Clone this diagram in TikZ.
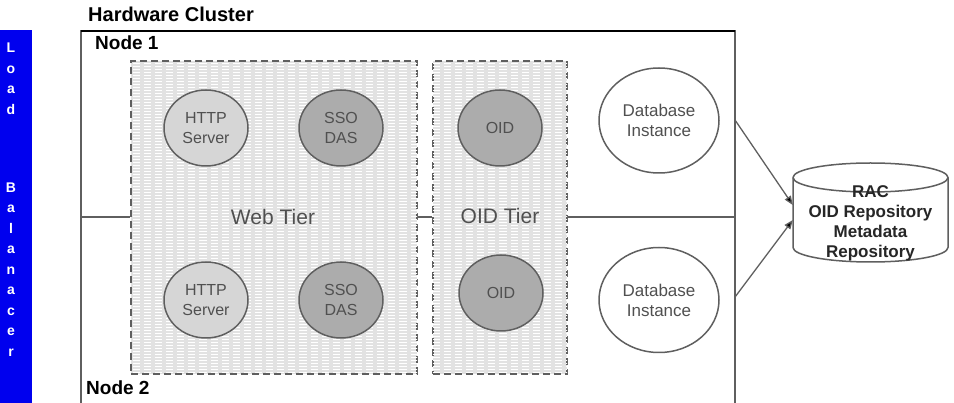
\documentclass[tikz,border=0pt]{standalone}
\usepackage{fontspec}
\setmainfont{Liberation Sans}
\usetikzlibrary{arrows.meta,shapes.geometric,patterns}
\definecolor{lbblue}{RGB}{0,0,238}
\definecolor{linegray}{RGB}{95,95,95}
\definecolor{tierfill}{RGB}{226,226,226}
\definecolor{lightc}{RGB}{214,214,214}
\definecolor{darkc}{RGB}{172,172,172}
\definecolor{txtgray}{RGB}{80,80,80}
\begin{document}
\begin{tikzpicture}[x=1pt,y=-1pt,
  lbl/.style={text=white,font=\fontsize{14}{16}\selectfont\bfseries,anchor=base,inner sep=0},
  title/.style={font=\fontsize{19}{22}\selectfont\bfseries,anchor=base west,inner sep=0},
  tier/.style={rectangle,draw=linegray,line width=1.8,dash pattern=on 7pt off 4pt,fill=tierfill,
     postaction={pattern=horizontal lines,pattern color=white},inner sep=0},
  tierlabel/.style={font=\fontsize{21}{24}\selectfont,text=txtgray,inner sep=1},
  svc/.style={ellipse,draw=linegray,line width=1.5,minimum width=84,minimum height=76,inner sep=0,
     align=center,font=\fontsize{16}{20}\selectfont,text=txtgray},
  light/.style={svc,fill=lightc},
  dark/.style={svc,fill=darkc},
  db/.style={ellipse,draw=linegray,line width=1.5,minimum width=120,minimum height=105,inner sep=0,
     align=center,font=\fontsize{17}{20}\selectfont,text=txtgray,fill=white},
  conn/.style={draw=linegray,line width=1.5},
  arr/.style={draw=linegray,line width=1.3,-{Triangle[length=9pt,width=7pt,fill=black]}}
]
\useasboundingbox (0,0) rectangle (954,403);

% load balancer bar
\fill[lbblue] (0,30) rectangle (32,403);
\foreach \ch/\yy [count=\i] in {L/53,o/74,a/94,d/115,B/193,a/213,l/234,a/254,n/275,a/295,c/316,e/336,r/357}
  \node[lbl] (lb\i) at (11,\yy) {\ch};

% titles
\node[title,font=\fontsize{20}{22}\selectfont\bfseries] (hc) at (88,22) {Hardware Cluster};
\node[title] (n1) at (95,50) {Node 1};
\node[title] (n2) at (86,395) {Node 2};

% outer frame
\coordinate (fbl) at (81,403);
\coordinate (ftl) at (81,31);
\coordinate (ftr) at (735,31);
\coordinate (fbr) at (735,403);
\draw[linegray,line width=1.8] (fbl) -- (ftl) -- (ftr) -- (fbr);
\draw[black,line width=1.2] (ftl) -- (ftr);

% tier boxes
\node[tier,minimum width=286,minimum height=313] (web) at (274,217.5) {};
\node[tier,minimum width=134,minimum height=313] (oid) at (500,217.5) {};

% divider
\coordinate (divL) at (81,217);
\coordinate (divR) at (735,217);
\draw[conn] (divL) -- (divL -| web.west);
\draw[conn] (web.east |- divL) -- (oid.west |- divL);
\draw[conn] (oid.east |- divR) -- (divR);

\node[tierlabel] (webl) at (273,217) {Web Tier};
\node[tierlabel] (oidl) at (500,216) {OID Tier};

% services
\node[light] (http1) at (206,128) {HTTP\\Server};
\node[dark]  (sso1)  at (341,128) {SSO\\DAS};
\node[light] (http2) at (206,300) {HTTP\\Server};
\node[dark]  (sso2)  at (341,300) {SSO\\DAS};
\node[dark]  (oid1)  at (500,128) {OID};
\node[dark]  (oid2)  at (501,293) {OID};

% databases
\node[db] (db1) at (659,120.5) {Database\\Instance};
\node[db] (db2) at (659,300) {Database\\Instance};

% RAC cylinder
\node[rectangle,minimum width=155,minimum height=99,inner sep=0] (rac) at (870.5,212.5) {};
\draw[linegray,line width=1.5,fill=white]
  (793,177.5) -- (793,247.5) arc[start angle=180,end angle=0,x radius=77.5,y radius=14.5]
  -- (948,177.5) arc[start angle=0,end angle=-180,x radius=77.5,y radius=14.5] -- cycle;
\draw[linegray,line width=1.5] (793,177.5) arc[start angle=180,end angle=0,x radius=77.5,y radius=14.5];
\node[align=center,font=\fontsize{17}{20}\selectfont\bfseries,text=black!85,inner sep=0] (ractxt) at (870.5,223.5)
  {RAC\\OID Repository\\Metadata\\Repository};

% connectors
\coordinate (s1) at (735,120);
\coordinate (s2) at (735,297);
\draw[arr] (s1) -- ([yshift=7.5pt]rac.west);
\draw[arr] (s2) -- ([yshift=-7.5pt]rac.west);
\end{tikzpicture}
\end{document}
